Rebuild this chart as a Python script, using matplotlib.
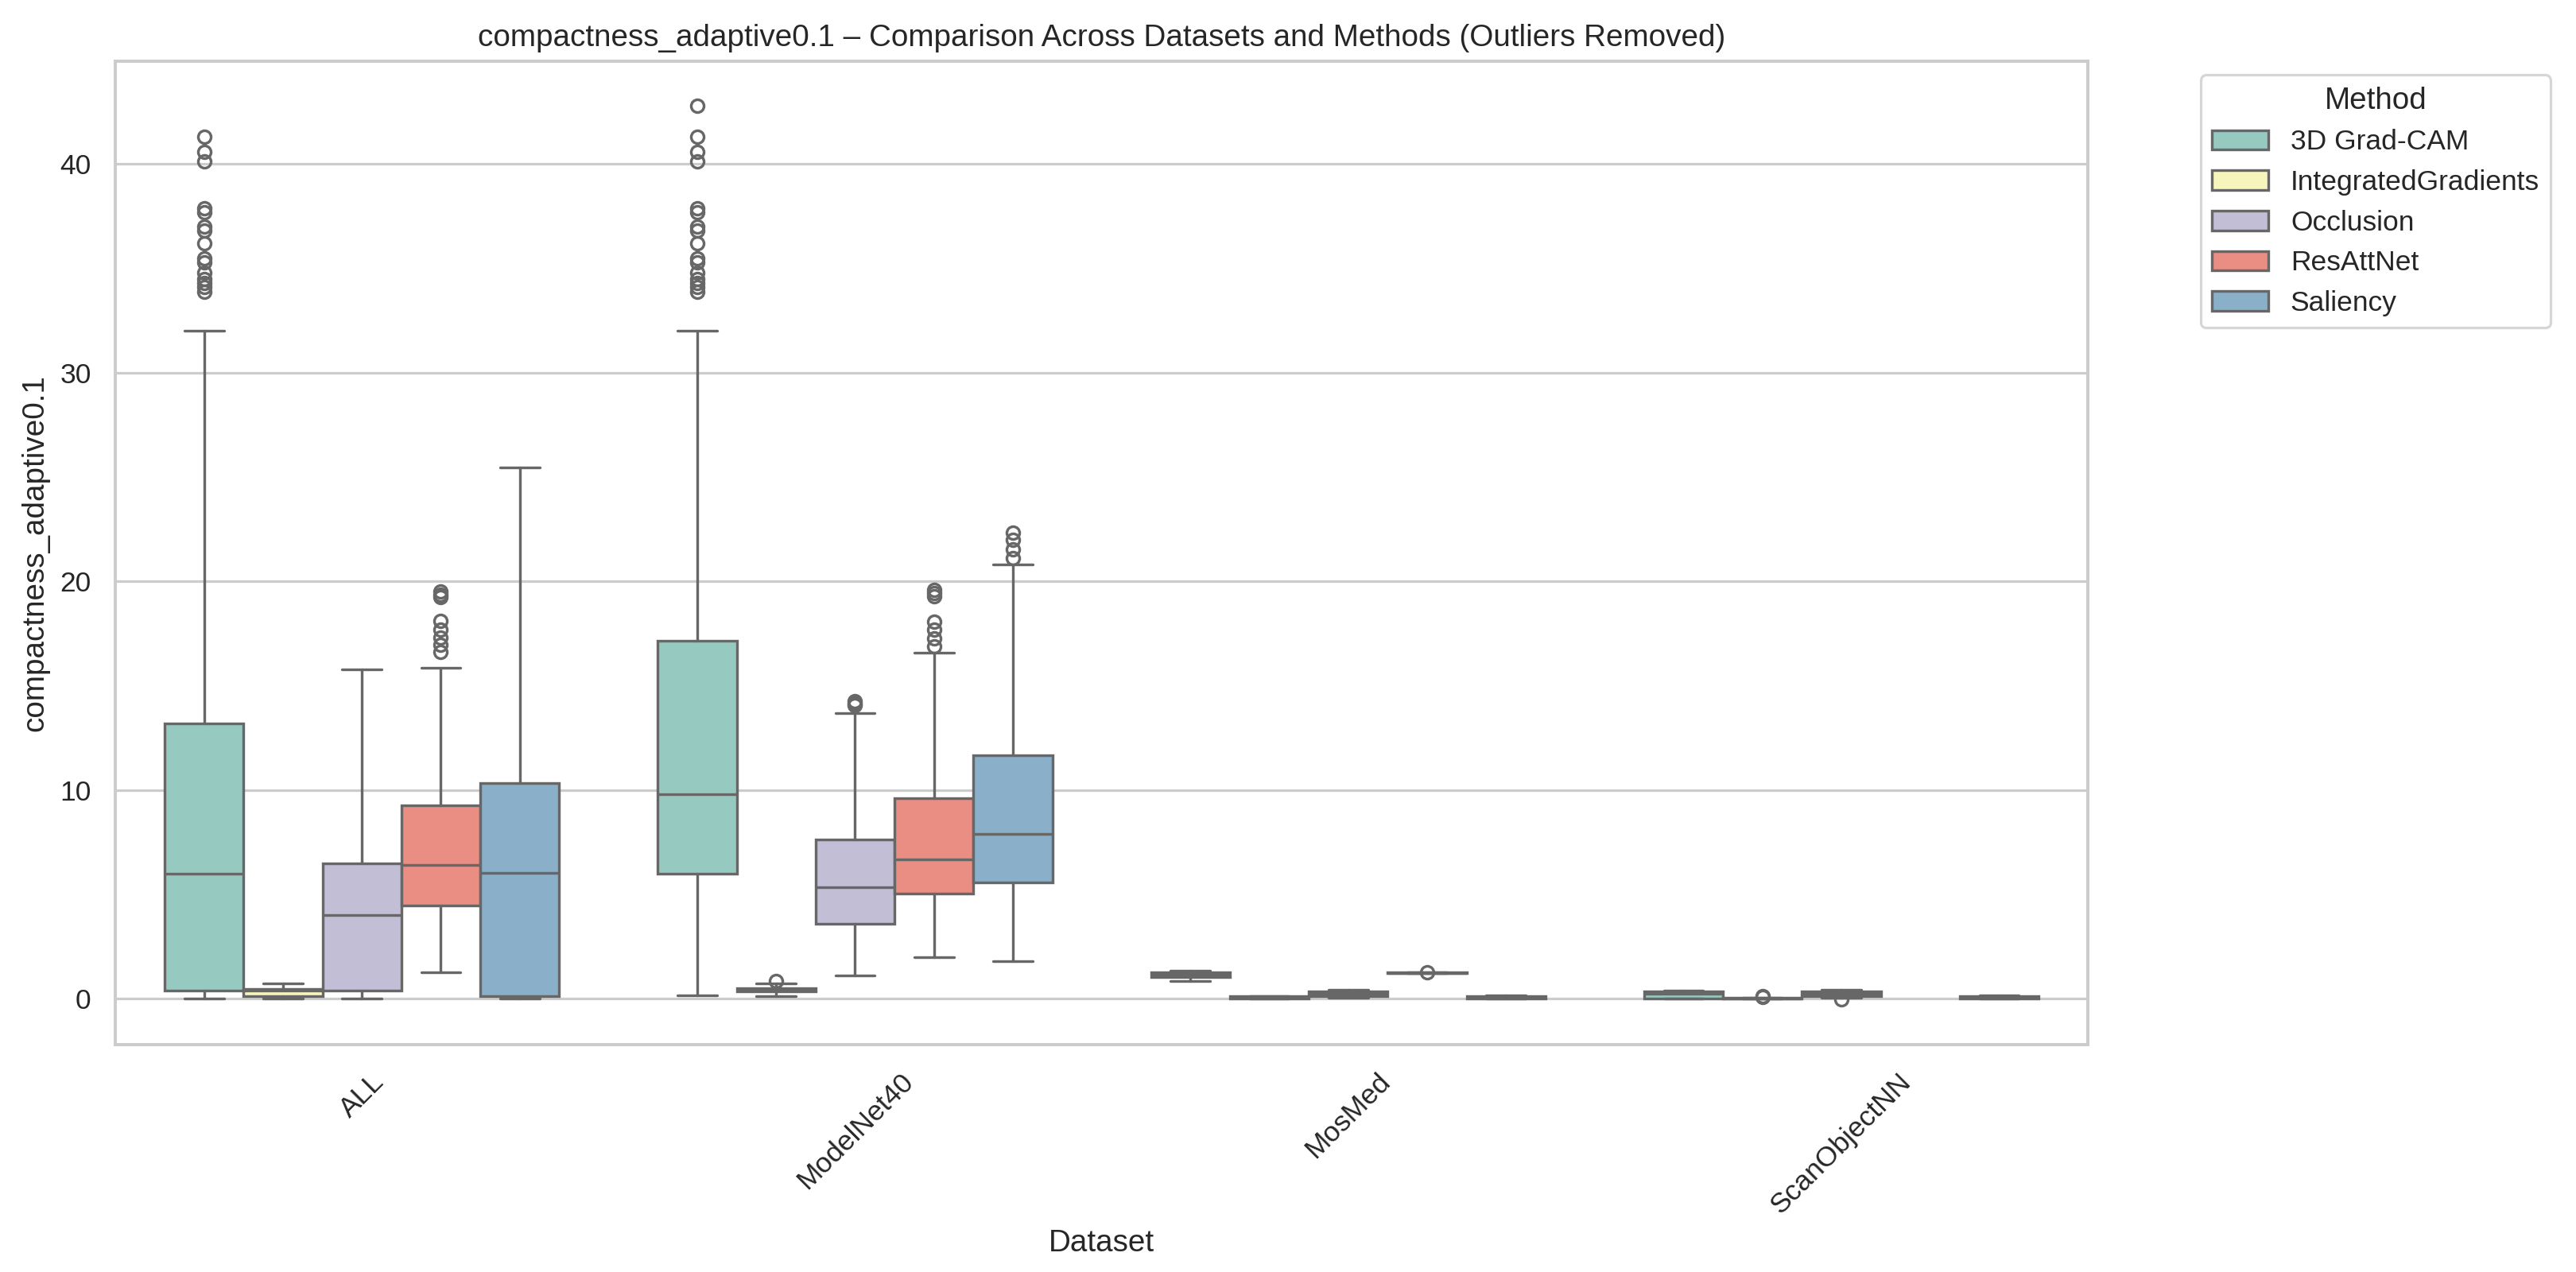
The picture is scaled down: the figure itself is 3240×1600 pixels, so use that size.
import colorsys
import matplotlib
matplotlib.use("Agg")
import matplotlib.pyplot as plt
import matplotlib.colors as mcolors
from matplotlib.patches import Patch
import seaborn as sns

# ---------------- data ----------------
datasets = ["ALL", "ModelNet40", "MosMed", "ScanObjectNN"]
methods = ["3D Grad-CAM", "IntegratedGradients", "Occlusion", "ResAttNet", "Saliency"]

# per method, one value per dataset (None = no data)
gradcam_whislo = [0.0, 0.15, 0.86, 0.0]
gradcam_q1 = [0.38, 5.98, 1.03, 0.02]
gradcam_med = [5.97, 9.8, 1.14, 0.22]
gradcam_q3 = [13.17, 17.16, 1.27, 0.36]
gradcam_whishi = [32.0, 32.0, 1.34, 0.38]
gradcam_fliers = [
    [41.3, 40.6, 40.15, 37.9, 37.7, 37.0, 36.8, 36.2, 35.5, 35.3, 34.8, 34.5, 34.3, 34.1, 33.9],
    [42.8, 41.3, 40.6, 40.15, 37.9, 37.7, 37.0, 36.8, 36.2, 35.5, 35.3, 34.8, 34.5, 34.3, 34.1, 33.9],
    [],
    [],
]

ig_whislo = [0.02, 0.12, 0.0, 0.0]
ig_q1 = [0.12, 0.33, 0.02, 0.0]
ig_med = [0.38, 0.42, 0.05, 0.01]
ig_q3 = [0.47, 0.5, 0.1, 0.03]
ig_whishi = [0.72, 0.72, 0.13, 0.05]
ig_fliers = [[], [0.85], [], [0.08, 0.12]]

occ_whislo = [0.0, 1.1, 0.05, 0.05]
occ_q1 = [0.38, 3.6, 0.1, 0.13]
occ_med = [4.02, 5.34, 0.23, 0.25]
occ_q3 = [6.5, 7.64, 0.35, 0.35]
occ_whishi = [15.77, 13.7, 0.44, 0.42]
occ_fliers = [[], [14.25, 14.15, 14.05], [], [-0.05]]

res_whislo = [1.27, 1.97, 1.23, None]
res_q1 = [4.48, 5.02, 1.235, None]
res_med = [6.42, 6.68, 1.24, None]
res_q3 = [9.25, 9.6, 1.245, None]
res_whishi = [15.85, 16.58, 1.25, None]
res_fliers = [
    [19.5, 19.35, 19.25, 18.1, 17.7, 17.3, 16.95, 16.6],
    [19.6, 19.45, 19.3, 18.05, 17.7, 17.25, 16.9],
    [1.27],
    [],
]

sal_whislo = [0.0, 1.81, 0.0, 0.0]
sal_q1 = [0.1, 5.55, 0.02, 0.02]
sal_med = [6.04, 7.9, 0.07, 0.07]
sal_q3 = [10.32, 11.66, 0.12, 0.12]
sal_whishi = [25.45, 20.8, 0.14, 0.15]
sal_fliers = [[], [22.35, 22.0, 21.55, 21.1], [], []]

method_stats = [
    (gradcam_whislo, gradcam_q1, gradcam_med, gradcam_q3, gradcam_whishi, gradcam_fliers),
    (ig_whislo, ig_q1, ig_med, ig_q3, ig_whishi, ig_fliers),
    (occ_whislo, occ_q1, occ_med, occ_q3, occ_whishi, occ_fliers),
    (res_whislo, res_q1, res_med, res_q3, res_whishi, res_fliers),
    (sal_whislo, sal_q1, sal_med, sal_q3, sal_whishi, sal_fliers),
]

base_colors = ['#8dd3c7', '#ffffb3', '#bebada', '#fb8072', '#80b1d3']

# ---------------- style ----------------
sns.set_theme(style="whitegrid")
plt.rcParams['font.family'] = ['Liberation Sans', 'DejaVu Sans']


def desaturate(c, prop=0.75):
    r, g, b = mcolors.to_rgb(c)
    h, l, s = colorsys.rgb_to_hls(r, g, b)
    return colorsys.hls_to_rgb(h, l, s * prop)


colors = [desaturate(c) for c in base_colors]
gray = '#676767'
lw = 1.05

DPI = 3240 / 14
fig = plt.figure(figsize=(14, 1600 / DPI), dpi=DPI)
ax = fig.add_axes([0.0448, 0.179, 0.7657, 0.773])

n = len(methods)
width = 0.8 / n
for mi, (wlo, q1, med, q3, whi, fl) in enumerate(method_stats):
    stats, pos = [], []
    for di in range(len(datasets)):
        if med[di] is None:
            continue
        stats.append(dict(whislo=wlo[di], q1=q1[di], med=med[di], q3=q3[di],
                          whishi=whi[di], fliers=fl[di]))
        pos.append(di - 0.4 + width * (mi + 0.5))
    ax.bxp(stats, positions=pos, widths=width, capwidths=width / 2,
           patch_artist=True, showfliers=True, manage_ticks=False,
           boxprops=dict(facecolor=colors[mi], edgecolor=gray, linewidth=lw),
           whiskerprops=dict(color=gray, linewidth=lw),
           capprops=dict(color=gray, linewidth=lw),
           medianprops=dict(color=gray, linewidth=lw),
           flierprops=dict(marker='o', markerfacecolor='none', markeredgecolor=gray,
                           markersize=5, markeredgewidth=lw))

ax.set_xlim(-0.5, len(datasets) - 0.5)
ax.set_xticks(range(len(datasets)))
ax.set_xticklabels(datasets, rotation=45)
ax.tick_params(axis='both', labelsize=11)
ax.xaxis.grid(False)
ax.set_xlabel("Dataset", fontsize=12)
ax.set_ylabel("compactness_adaptive0.1", fontsize=12)
ax.set_title("compactness_adaptive0.1 – Comparison Across Datasets and Methods (Outliers Removed)",
             fontsize=12)

handles = [Patch(facecolor=colors[i], edgecolor=gray, linewidth=lw, label=m)
           for i, m in enumerate(methods)]
ax.legend(handles=handles, title="Method", bbox_to_anchor=(1.05, 1), loc='upper left',
          fontsize=11, title_fontsize=12)

fig.savefig("out.png", dpi=DPI)
